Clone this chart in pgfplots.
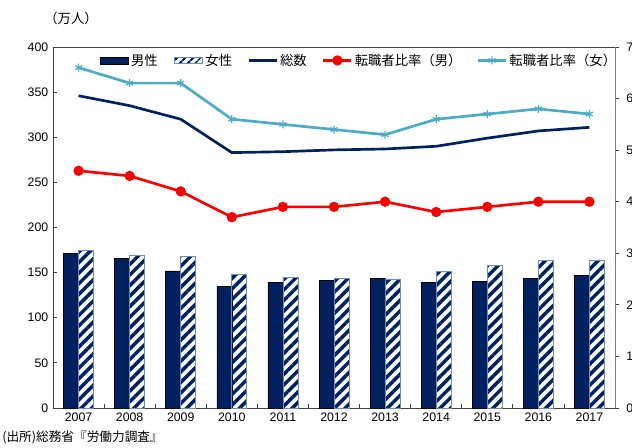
\documentclass[border=0pt]{standalone}
\usepackage{fontspec}
\setmainfont{Liberation Sans}
\newfontfamily\jp{Noto Sans CJK JP}
\usepackage{pgfplots}
\usepackage{pgfplotstable}
\pgfplotsset{compat=1.18}
\usetikzlibrary{patterns.meta}
\definecolor{navy}{RGB}{0,32,96}
\definecolor{aqua}{RGB}{75,172,198}
\definecolor{fborder}{RGB}{110,140,190}

\pgfplotstableread{
x male female total rm rf
0 171 175 346 4.6 6.6
1 166 169 335 4.5 6.3
2 152 168 320 4.2 6.3
3 135 148 283 3.7 5.6
4 139 145 284 3.9 5.5
5 141 144 286 3.9 5.4
6 144 143 287 4.0 5.3
7 139 151 290 3.8 5.6
8 140 158 299 3.9 5.7
9 144 163 307 4.0 5.8
10 147 164 311 4.0 5.7
}\datatable

\begin{document}
\begin{tikzpicture}
\pgfplotsset{
  common/.style={
    at={(0,0)}, anchor=south west,
    scale only axis, width=421.5pt, height=270.75pt,
    xmin=-0.5, xmax=10.5,
    tick label style={font=\fontsize{9.25}{11}\selectfont},
    /pgf/number format/assume math mode=true,
    axis line style={black!75, line width=0.7pt},
    tick style={black!75, line width=0.6pt},
    major tick length=3pt, minor tick length=3pt,
  },
  linelegend/.style={legend image code/.code={%
    \draw[mark repeat=2,mark phase=2,##1] plot coordinates {(0pt,0pt) (10.5pt,0pt) (21pt,0pt)};}},
}
\begin{axis}[common,
  ymin=0, ymax=400,
  ytick={0,50,...,400}, ytick pos=left,
  xtick={0,...,10},
  xticklabels={2007,2008,2009,2010,2011,2012,2013,2014,2015,2016,2017},
  major x tick style={draw=none},
  minor xtick={0.5,1.5,...,9.5},
  xtick pos=bottom,
  tick align=inside,
  legend columns=5,
  legend style={draw=none, fill=none, at={(0.545,0.995)}, anchor=north,
    font=\jp\fontsize{10}{12}\selectfont,
    /tikz/every even column/.append style={column sep=10pt},
    nodes={inner sep=1.5pt}},
]
\addplot[ybar, bar width=11.25pt, bar shift=-5.625pt, fill=navy, draw=black, line width=0.4pt,
  legend image code/.code={\draw[fill=navy, draw=black, line width=0.4pt] (0pt,-2.5pt) rectangle (21pt,2.5pt);}]
  table[x=x,y=male]{\datatable};
\addlegendentry{男性}
\addplot[ybar, bar width=11.25pt, bar shift=5.625pt, draw=fborder, line width=0.6pt,
  pattern={Lines[angle=45,distance=5.6pt,line width=2.6pt]}, pattern color=navy,
  legend image code/.code={\draw[draw=fborder, line width=0.6pt, pattern={Lines[angle=45,distance=4pt,line width=1.8pt]}, pattern color=navy] (0pt,-2.5pt) rectangle (21pt,2.5pt);}]
  table[x=x,y=female]{\datatable};
\addlegendentry{女性}
\addplot[navy, line width=2pt, no markers, linelegend] table[x=x,y=total]{\datatable};
\addlegendentry{総数}
\addlegendimage{red, line width=2pt, mark=*, mark size=2.8pt, linelegend}
\addlegendentry{転職者比率（男）}
\addlegendimage{aqua, line width=2pt, mark=asterisk, mark size=3pt, mark options={line width=0.9pt}, linelegend}
\addlegendentry{転職者比率（女）}
\end{axis}
\begin{axis}[common,
  ymin=0, ymax=7,
  axis y line*=right, axis x line=none,
  ytick={0,...,7},
  tick align=outside,
  yticklabel style={xshift=2pt},
  axis line style={black!50, line width=0.7pt},
]
\addplot[red, line width=2pt, mark=*, mark size=2.8pt] table[x=x,y=rm]{\datatable};
\addplot[aqua, line width=2pt, mark=asterisk, mark size=3pt, mark options={line width=0.9pt}] table[x=x,y=rf]{\datatable};
\end{axis}
\node[anchor=west, font=\jp\fontsize{10}{12}\selectfont] at (-10pt,292.5pt) {（万人）};
\node[anchor=west, font=\jp\fontsize{9.5}{11}\selectfont, inner sep=0pt] at (-38.25pt,-21.75pt) {(出所)総務省『労働力調査』};
\pgfresetboundingbox
\useasboundingbox (-39.75pt,-29.25pt) rectangle (434.25pt,306pt);
\end{tikzpicture}
\end{document}
